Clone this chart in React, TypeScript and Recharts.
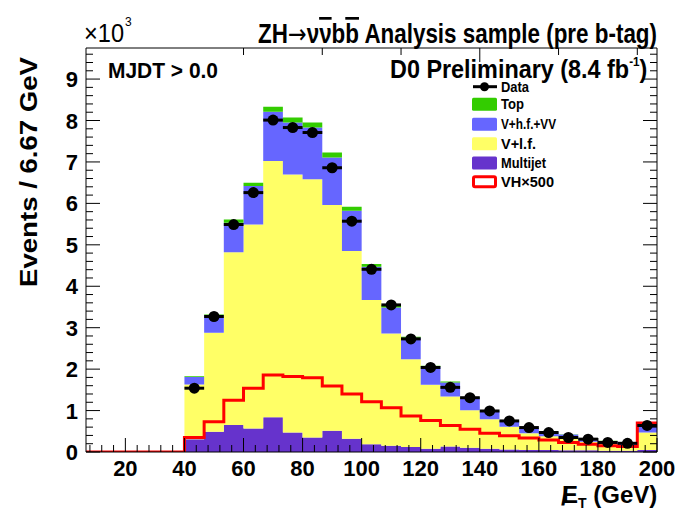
import React from 'react';
import { ComposedChart, Area, Line, Scatter, ErrorBar, XAxis, YAxis } from 'recharts';

// Left edges of histogram bins (GeV); last edge is 200
const binEdges = [6.67, 13.33, 20, 26.67, 33.33, 40, 46.67, 53.33, 60, 66.67, 73.33, 80, 86.67, 93.33, 100, 106.67, 113.33, 120, 126.67, 133.33, 140, 146.67, 153.33, 160, 166.67, 173.33, 180, 186.67, 193.33];
const xEnd = 200;
const emptyBins = 5; // bins below 40 GeV are empty

// populated bins (40 .. 200 GeV), values in units of 10^3 events
const multijet = [0.31, 0.49, 0.65, 0.57, 0.84, 0.47, 0.35, 0.51, 0.32, 0.19, 0.15, 0.12, 0.08, 0.13, 0.10, 0.08, 0.06, 0.05, 0.05, 0.04, 0.04, 0.03, 0.03, 0.05];
const vlf = [1.32, 2.39, 4.17, 4.92, 6.18, 6.23, 6.23, 5.45, 4.53, 3.48, 2.71, 2.12, 1.54, 1.21, 0.91, 0.71, 0.55, 0.40, 0.33, 0.28, 0.21, 0.17, 0.13, 0.42];
const vhf = [0.18, 0.42, 0.71, 0.93, 1.19, 1.25, 1.25, 1.15, 0.97, 0.80, 0.63, 0.52, 0.44, 0.34, 0.29, 0.20, 0.14, 0.12, 0.10, 0.10, 0.07, 0.06, 0.05, 0.17];
const top = [0.02, 0.02, 0.08, 0.08, 0.12, 0.12, 0.12, 0.12, 0.10, 0.07, 0.05, 0.02, 0.02, 0.02, 0.02, 0.01, 0.01, 0.01, 0.01, 0.01, 0.01, 0.01, 0.01, 0.02];
const vh500 = [0.35, 0.73, 1.25, 1.54, 1.86, 1.82, 1.79, 1.59, 1.40, 1.21, 1.07, 0.87, 0.76, 0.64, 0.55, 0.45, 0.39, 0.34, 0.29, 0.23, 0.19, 0.15, 0.13, 0.70];
const dataVals = [1.54, 3.27, 5.49, 6.26, 8.01, 7.83, 7.71, 6.86, 5.57, 4.41, 3.55, 2.73, 2.04, 1.56, 1.31, 0.99, 0.75, 0.59, 0.47, 0.35, 0.31, 0.23, 0.21, 0.64];

const xMajor = [20, 40, 60, 80, 100, 120, 140, 160, 180, 200];
const xTicks = [8, 12, 16, 20, 24, 28, 32, 36, 40, 44, 48, 52, 56, 60, 64, 68, 72, 76, 80, 84, 88, 92, 96, 100, 104, 108, 112, 116, 120, 124, 128, 132, 136, 140, 144, 148, 152, 156, 160, 164, 168, 172, 176, 180, 184, 188, 192, 196, 200];
const yMajor = [0, 1, 2, 3, 4, 5, 6, 7, 8, 9];
const yTicks = Array.from({ length: 49 }, (_, i) => Math.round(i * 2) / 10);

const legendItems = [
  { label: 'Top', color: '#33cc00', kind: 'box', w: 23 },
  { label: 'V+h.f.+VV', color: '#6666ff', kind: 'box', w: 55 },
  { label: 'V+l.f.', color: '#ffff66', kind: 'box', w: 35 },
  { label: 'Multijet', color: '#6633cc', kind: 'box', w: 45 },
  { label: 'VH\u00d7500', color: '#ff0000', kind: 'outline', w: 53 },
];

const rows = binEdges.map((e, i) => {
  const j = i - emptyBins;
  return {
    x: e,
    mj: j >= 0 ? multijet[j] : 0,
    vlf: j >= 0 ? vlf[j] : 0,
    vhf: j >= 0 ? vhf[j] : 0,
    top: j >= 0 ? top[j] : 0,
    vh: j >= 0 ? vh500[j] : 0,
  };
});
rows.push({ ...rows[rows.length - 1], x: xEnd });

const dataPoints = dataVals.map((y, j) => {
  const lo = binEdges[j + emptyBins];
  const hi = j + emptyBins + 1 < binEdges.length ? binEdges[j + emptyBins + 1] : xEnd;
  return { x: (lo + hi) / 2, y, xerr: (hi - lo) / 2 };
});

const FONT = '"Liberation Sans", Arial, Helvetica, sans-serif';

const W = 682;
const H = 510;

const BottomTick = (p: any) => {
  const v = p.payload.value;
  const major = xMajor.includes(v);
  const len = major ? 14 : 7;
  return (
    <g>
      <line x1={p.x} x2={p.x} y1={p.y} y2={p.y - len} stroke="#000" strokeWidth={1} />
      {major && (
        <text x={p.x} y={p.y + 24} textAnchor="middle" fontFamily={FONT} fontWeight="bold" fontSize={22} fill="#000">
          {v}
        </text>
      )}
    </g>
  );
};

const TopTick = (p: any) => {
  const v = p.payload.value;
  const major = xMajor.includes(v);
  const len = major ? 14 : 7;
  return <line x1={p.x} x2={p.x} y1={p.y} y2={p.y + len} stroke="#000" strokeWidth={1} />;
};

const isMajorY = (v: number) => yMajor.some((m) => Math.abs(m - v) < 1e-6);

const LeftTick = (p: any) => {
  const v = p.payload.value;
  const major = isMajorY(v);
  const len = major ? 14 : 7;
  return (
    <g>
      <line x1={p.x} x2={p.x + len} y1={p.y} y2={p.y} stroke="#000" strokeWidth={1} />
      {major && (
        <text x={p.x - 8} y={p.y + 8} textAnchor="end" fontFamily={FONT} fontWeight="bold" fontSize={22} fill="#000">
          {Math.round(v)}
        </text>
      )}
    </g>
  );
};

const RightTick = (p: any) => {
  const v = p.payload.value;
  const major = isMajorY(v);
  const len = major ? 14 : 7;
  return <line x1={p.x} x2={p.x - len} y1={p.y} y2={p.y} stroke="#000" strokeWidth={1} />;
};

const DataDot = (p: any) => <circle cx={p.cx} cy={p.cy} r={5.5} fill="#000" />;

const Overlay = () => {
  const lx = 472;
  const rowY = [86.7, 104.3, 124.2, 143.8, 163, 181.8];
  return (
    <svg width={W} height={H} style={{ position: 'absolute', left: 0, top: 0, pointerEvents: 'none' }}>
      {/* exponent */}
      <text x={84} y={42} fontFamily={FONT} fontSize={25} fill="#000" textLength={40} lengthAdjust="spacingAndGlyphs">
        {'\u00d710'}
      </text>
      <text x={125} y={26} fontFamily={FONT} fontSize={12} fill="#000">3</text>
      {/* title */}
      <text x={258} y={43} fontFamily={FONT} fontWeight="bold" fontSize={27} fill="#000" textLength={399} lengthAdjust="spacingAndGlyphs">
        {'ZH'}
        <tspan fontFamily='"DejaVu Sans", sans-serif' fontWeight="normal">{'\u2192'}</tspan>
        {'\u03bd'}
        <tspan style={{ textDecoration: 'overline' }}>{'\u03bd'}</tspan>
        {'b'}
        <tspan style={{ textDecoration: 'overline' }}>b</tspan>
        {' Analysis sample (pre b-tag)'}
      </text>
      {/* inside labels */}
      <text x={108} y={78} fontFamily={FONT} fontWeight="bold" fontSize={22} fill="#000" textLength={110} lengthAdjust="spacingAndGlyphs">
        {'MJDT > 0.0'}
      </text>
      <g transform="translate(390,78) scale(0.9,1)">
        <text x={0} y={0} fontFamily={FONT} fontWeight="bold" fontSize={26} fill="#000">
          {'D0 Preliminary (8.4 fb'}
          <tspan fontSize={13} dy={-12}>-1</tspan>
          <tspan dy={12}>)</tspan>
        </text>
      </g>
      {/* axis titles */}
      <text transform="translate(37,57) rotate(-90)" textAnchor="end" fontFamily={FONT} fontWeight="bold" fontSize={24} fill="#000" textLength={230} lengthAdjust="spacingAndGlyphs">
        {'Events / 6.67 GeV'}
      </text>
      <text x={562} y={503} fontFamily={FONT} fontWeight="bold" fontSize={24} fill="#000">
        E
        <tspan fontSize={14} dy={5}>T</tspan>
        <tspan dy={-5}>{' (GeV)'}</tspan>
      </text>
      <text x={561} y={505} fontFamily={FONT} fontWeight="bold" fontSize={26} fill="#000">/</text>
      {/* legend */}
      <line x1={lx + 1} x2={lx + 25} y1={rowY[0]} y2={rowY[0]} stroke="#000" strokeWidth={3} />
      <circle cx={lx + 12.5} cy={rowY[0]} r={4.5} fill="#000" />
      <text x={501} y={rowY[0] + 5} fontFamily={FONT} fontWeight="bold" fontSize={14} fill="#000" textLength={28} lengthAdjust="spacingAndGlyphs">Data</text>
      {legendItems.map((it, i) => {
        const cy = rowY[i + 1];
        return (
          <g key={it.label}>
            {it.kind === 'box' ? (
              <rect x={lx} y={cy - 6.5} width={25} height={13} rx={1.5} fill={it.color} />
            ) : (
              <rect x={lx + 1.5} y={cy - 5} width={22} height={10} rx={1.5} fill="none" stroke={it.color} strokeWidth={3} />
            )}
            <text x={501} y={cy + 5} fontFamily={FONT} fontWeight="bold" fontSize={14} fill="#000" textLength={it.w} lengthAdjust="spacingAndGlyphs">
              {it.label}
            </text>
          </g>
        );
      })}
    </svg>
  );
};

export default function App() {
  return (
    <div style={{ position: 'absolute', left: 0, top: 0, width: W, height: H, background: '#fff' }}>
      <ComposedChart width={W} height={H} data={rows} margin={{ top: 47, right: 24, bottom: 18, left: 26 }}>
        <Area type="stepAfter" dataKey="mj" stackId="s" fill="#6633cc" fillOpacity={1} stroke="none" dot={false} activeDot={false} isAnimationActive={false} />
        <Area type="stepAfter" dataKey="vlf" stackId="s" fill="#ffff66" fillOpacity={1} stroke="none" dot={false} activeDot={false} isAnimationActive={false} />
        <Area type="stepAfter" dataKey="vhf" stackId="s" fill="#6666ff" fillOpacity={1} stroke="none" dot={false} activeDot={false} isAnimationActive={false} />
        <Area type="stepAfter" dataKey="top" stackId="s" fill="#33cc00" fillOpacity={1} stroke="none" dot={false} activeDot={false} isAnimationActive={false} />
        <Line type="stepAfter" dataKey="vh" stroke="#ff0000" strokeWidth={3} dot={false} activeDot={false} isAnimationActive={false} />
        <Scatter data={dataPoints} dataKey="y" shape={DataDot} isAnimationActive={false}>
          <ErrorBar dataKey="xerr" direction="x" width={0} strokeWidth={3} stroke="#000" />
        </Scatter>
        <XAxis dataKey="x" type="number" domain={[6.67, 200]} allowDataOverflow ticks={xTicks} interval={0} tickSize={0} tickMargin={0} tickLine={false} tick={BottomTick} height={40} axisLine={{ stroke: '#000' }} />
        <XAxis xAxisId="t" orientation="top" type="number" domain={[6.67, 200]} allowDataOverflow ticks={xTicks} interval={0} tickSize={0} tickMargin={0} tickLine={false} tick={TopTick} height={1} axisLine={{ stroke: '#000' }} />
        <YAxis type="number" domain={[0, 9.75]} allowDataOverflow ticks={yTicks} interval={0} tickSize={0} tickMargin={0} tickLine={false} tick={LeftTick} width={60} axisLine={{ stroke: '#000' }} />
        <YAxis yAxisId="r" orientation="right" type="number" domain={[0, 9.75]} allowDataOverflow ticks={yTicks} interval={0} tickSize={0} tickMargin={0} tickLine={false} tick={RightTick} width={1} axisLine={{ stroke: '#000' }} />
      </ComposedChart>
      <Overlay />
    </div>
  );
}
